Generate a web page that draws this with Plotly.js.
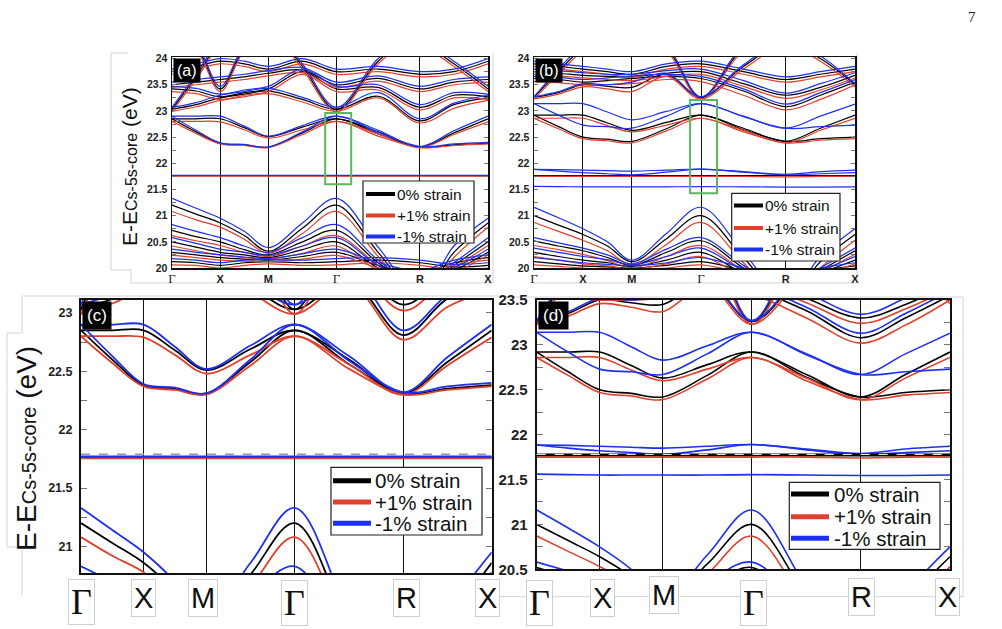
<!DOCTYPE html>
<html><head><meta charset="utf-8">
<script src="https://cdn.plot.ly/plotly-3.0.1.min.js"></script>
<style>html,body{margin:0;padding:0;background:#fff}#chart{width:1002px;height:629px}</style>
</head><body><div id="chart"></div>
<script>
// ---------- k-path (high-symmetry path G-X-M-G-R-X) ----------
const kPath   = [0, 0.25, 0.5, 0.75, 1.0, 1.354, 1.707, 2.140, 2.573, 2.926, 3.280];
const kTicks  = [0, 0.5, 1.0, 1.707, 2.573, 3.280];
const kLabels = ['Γ', 'X', 'M', 'Γ', 'R', 'X'];

const strainNames  = ['0% strain', '+1% strain', '-1% strain'];
const strainColors = ['#000000', '#e2402c', '#1d2ff0'];

// ---------- material of panels (a)/(c) ----------
const bandsA_0 = [
  [22.85, 22.85, 22.85, 22.68, 22.51, 22.69, 22.85, 22.60, 22.31, 22.58, 22.85],
  [22.85, 22.60, 22.38, 22.35, 22.31, 22.58, 22.85, 22.56, 22.31, 22.35, 22.38],
  [21.765, 21.765, 21.765, 21.765, 21.765, 21.765, 21.765, 21.765, 21.765, 21.765, 21.765],
  [23.03, 23.12, 23.25, 23.32, 23.38, 23.22, 23.03, 23.28, 22.81, 23.12, 23.25],
  [23.42, 23.38, 23.27, 23.35, 23.42, 23.75, 23.42, 23.45, 23.07, 23.30, 23.27],
  [23.03, 23.65, 24.30, 24.50, 24.60, 23.85, 23.03, 23.95, 24.50, 24.10, 24.30],
  [23.50, 23.55, 23.60, 23.65, 23.72, 23.78, 23.50, 23.62, 23.42, 23.55, 23.60],
  [23.75, 23.85, 23.95, 23.90, 23.80, 23.95, 23.75, 23.80, 23.70, 23.75, 23.95],
  [24.30, 24.20, 23.42, 24.20, 24.50, 24.50, 24.30, 24.40, 24.30, 23.90, 23.42],
  [21.20, 21.03, 20.86, 20.62, 20.32, 20.76, 21.20, 20.30, 19.45, 20.30, 20.86],
  [20.72, 20.60, 20.50, 20.35, 20.25, 20.50, 20.72, 20.10, 19.60, 20.05, 20.50],
  [20.50, 20.40, 20.30, 20.25, 20.20, 20.35, 20.50, 20.00, 19.70, 19.95, 20.30],
  [20.30, 20.25, 20.20, 20.17, 20.15, 20.22, 20.30, 20.05, 19.90, 20.10, 20.20],
  [20.12, 20.10, 20.05, 20.10, 20.12, 20.10, 20.12, 20.15, 20.10, 20.02, 20.05]
];
const bandsA_p1 = [
  [22.80, 22.80, 22.79, 22.64, 22.48, 22.64, 22.80, 22.56, 22.30, 22.55, 22.79],
  [22.80, 22.57, 22.37, 22.34, 22.30, 22.55, 22.80, 22.52, 22.30, 22.34, 22.37],
  [21.755, 21.755, 21.755, 21.755, 21.755, 21.755, 21.755, 21.755, 21.755, 21.755, 21.755],
  [22.99, 23.08, 23.20, 23.27, 23.33, 23.17, 22.99, 23.25, 22.77, 23.05, 23.20],
  [23.37, 23.33, 23.22, 23.30, 23.37, 23.70, 23.37, 23.40, 23.02, 23.25, 23.22],
  [22.99, 23.60, 24.25, 24.45, 24.55, 23.80, 22.99, 23.90, 24.45, 24.05, 24.25],
  [23.45, 23.50, 23.55, 23.60, 23.67, 23.73, 23.45, 23.57, 23.37, 23.50, 23.55],
  [23.70, 23.80, 23.90, 23.85, 23.75, 23.90, 23.70, 23.75, 23.65, 23.70, 23.90],
  [24.25, 24.15, 23.37, 24.15, 24.45, 24.45, 24.25, 24.35, 24.25, 23.85, 23.37],
  [21.08, 20.92, 20.78, 20.55, 20.28, 20.66, 21.08, 20.22, 19.40, 20.20, 20.78],
  [20.62, 20.52, 20.43, 20.30, 20.22, 20.42, 20.62, 20.05, 19.55, 20.00, 20.43],
  [20.42, 20.33, 20.25, 20.20, 20.17, 20.28, 20.42, 19.95, 19.65, 19.90, 20.25],
  [20.24, 20.20, 20.15, 20.13, 20.12, 20.17, 20.24, 20.00, 19.85, 20.05, 20.15],
  [20.06, 20.05, 20.00, 20.05, 20.08, 20.05, 20.06, 20.10, 20.05, 19.97, 20.00]
];
const bandsA_m1 = [
  [22.90, 22.90, 22.90, 22.71, 22.52, 22.72, 22.90, 22.63, 22.32, 22.62, 22.90],
  [22.90, 22.63, 22.39, 22.36, 22.31, 22.60, 22.90, 22.59, 22.32, 22.37, 22.40],
  [21.77, 21.77, 21.77, 21.77, 21.77, 21.77, 21.77, 21.77, 21.77, 21.77, 21.77],
  [23.07, 23.16, 23.30, 23.37, 23.43, 23.26, 23.07, 23.35, 22.85, 23.15, 23.30],
  [23.47, 23.43, 23.32, 23.40, 23.47, 23.80, 23.47, 23.50, 23.12, 23.35, 23.32],
  [23.07, 23.70, 24.35, 24.55, 24.65, 23.90, 23.07, 24.00, 24.55, 24.15, 24.35],
  [23.55, 23.60, 23.65, 23.70, 23.77, 23.83, 23.55, 23.67, 23.47, 23.60, 23.65],
  [23.80, 23.90, 24.00, 23.95, 23.85, 24.00, 23.80, 23.85, 23.75, 23.80, 24.00],
  [24.35, 24.25, 23.47, 24.25, 24.55, 24.55, 24.35, 24.45, 24.35, 23.95, 23.47],
  [21.33, 21.14, 20.95, 20.70, 20.39, 20.86, 21.33, 20.40, 19.50, 20.42, 20.95],
  [20.83, 20.70, 20.58, 20.42, 20.30, 20.58, 20.83, 20.15, 19.65, 20.10, 20.58],
  [20.58, 20.47, 20.36, 20.30, 20.24, 20.42, 20.58, 20.05, 19.75, 20.00, 20.36],
  [20.36, 20.30, 20.25, 20.21, 20.18, 20.27, 20.36, 20.10, 19.95, 20.15, 20.25],
  [20.18, 20.15, 20.10, 20.15, 20.16, 20.15, 20.18, 20.20, 20.15, 20.07, 20.10]
];

// ---------- material of panels (b)/(d) ----------
const bandsB_0 = [
  [22.92, 22.92, 22.92, 22.77, 22.63, 22.78, 22.92, 22.67, 22.42, 22.67, 22.92],
  [22.92, 22.70, 22.50, 22.46, 22.42, 22.66, 22.92, 22.64, 22.42, 22.47, 22.50],
  [21.765, 21.765, 21.765, 21.765, 21.765, 21.765, 21.765, 21.765, 21.765, 21.765, 21.765],
  [23.26, 23.35, 23.50, 23.47, 23.45, 23.70, 23.26, 23.85, 24.30, 24.00, 23.50],
  [23.62, 23.60, 23.55, 23.58, 23.62, 23.66, 23.62, 23.38, 23.08, 23.30, 23.55],
  [23.75, 23.72, 23.68, 23.66, 23.65, 23.72, 23.75, 23.52, 23.30, 23.45, 23.68],
  [23.90, 23.85, 23.80, 23.75, 23.70, 23.85, 23.90, 23.75, 23.60, 23.70, 23.80],
  [23.26, 23.75, 24.20, 24.40, 24.50, 24.20, 23.26, 24.20, 24.50, 24.10, 24.20],
  [21.00, 20.82, 20.64, 20.42, 20.12, 20.56, 21.00, 20.20, 19.40, 20.12, 20.64],
  [20.52, 20.42, 20.33, 20.20, 20.05, 20.30, 20.52, 20.00, 19.55, 19.95, 20.33],
  [20.30, 20.22, 20.15, 20.10, 20.03, 20.15, 20.30, 19.90, 19.65, 19.90, 20.15],
  [20.12, 20.08, 20.04, 20.02, 20.00, 20.05, 20.12, 19.95, 19.80, 19.95, 20.04]
];
const bandsB_p1 = [
  [22.86, 22.86, 22.86, 22.72, 22.60, 22.73, 22.86, 22.63, 22.39, 22.63, 22.86],
  [22.86, 22.66, 22.47, 22.43, 22.39, 22.62, 22.86, 22.60, 22.39, 22.44, 22.47],
  [21.75, 21.75, 21.75, 21.75, 21.75, 21.75, 21.75, 21.75, 21.74, 21.75, 21.75],
  [23.23, 23.32, 23.46, 23.42, 23.37, 23.66, 23.23, 23.80, 24.25, 23.95, 23.46],
  [23.56, 23.54, 23.50, 23.50, 23.52, 23.60, 23.56, 23.30, 23.02, 23.22, 23.50],
  [23.70, 23.67, 23.63, 23.60, 23.58, 23.66, 23.70, 23.47, 23.24, 23.40, 23.63],
  [23.85, 23.80, 23.75, 23.70, 23.65, 23.80, 23.85, 23.70, 23.55, 23.65, 23.75],
  [23.23, 23.70, 24.15, 24.35, 24.45, 24.15, 23.23, 24.15, 24.45, 24.05, 24.15],
  [20.87, 20.70, 20.53, 20.33, 20.06, 20.45, 20.87, 20.10, 19.35, 20.00, 20.53],
  [20.43, 20.35, 20.26, 20.14, 20.00, 20.22, 20.43, 19.95, 19.50, 19.90, 20.26],
  [20.22, 20.15, 20.08, 20.04, 19.98, 20.08, 20.22, 19.85, 19.60, 19.85, 20.08],
  [20.06, 20.03, 20.00, 19.98, 19.96, 20.00, 20.06, 19.90, 19.75, 19.90, 20.00]
];
const bandsB_m1 = [
  [23.14, 23.14, 23.14, 22.98, 22.83, 22.99, 23.14, 22.90, 22.67, 22.90, 23.13],
  [23.14, 22.92, 22.73, 22.70, 22.67, 22.90, 23.14, 22.89, 22.67, 22.70, 22.73],
  [21.885, 21.88, 21.87, 21.86, 21.85, 21.87, 21.89, 21.84, 21.79, 21.84, 21.87],
  [21.885, 21.85, 21.82, 21.80, 21.78, 21.83, 21.89, 21.83, 21.78, 21.80, 21.82],
  [21.56, 21.555, 21.55, 21.55, 21.55, 21.55, 21.555, 21.55, 21.545, 21.545, 21.55],
  [23.27, 23.37, 23.52, 23.50, 23.55, 23.72, 23.27, 23.88, 24.35, 24.05, 23.52],
  [23.66, 23.64, 23.60, 23.63, 23.67, 23.70, 23.66, 23.42, 23.13, 23.35, 23.60],
  [23.80, 23.77, 23.73, 23.70, 23.70, 23.77, 23.80, 23.58, 23.34, 23.52, 23.73],
  [23.95, 23.90, 23.85, 23.80, 23.75, 23.90, 23.95, 23.80, 23.65, 23.75, 23.85],
  [23.27, 23.80, 24.25, 24.45, 24.55, 24.25, 23.27, 24.25, 24.55, 24.15, 24.25],
  [21.16, 20.96, 20.75, 20.50, 20.15, 20.66, 21.16, 20.30, 19.45, 20.22, 20.75],
  [20.58, 20.48, 20.38, 20.25, 20.08, 20.36, 20.58, 20.05, 19.60, 20.00, 20.38],
  [20.38, 20.30, 20.22, 20.16, 20.06, 20.22, 20.38, 19.95, 19.70, 19.95, 20.22],
  [20.20, 20.15, 20.10, 20.07, 20.04, 20.10, 20.20, 20.00, 19.85, 20.00, 20.10]
];

// reference levels and highlight boxes
const refLevelC = 21.79, refLevelD = 21.78;
const boxA = {k: [1.59, 1.86], e: [21.60, 22.96]};
const boxB = {k: [1.595, 1.87], e: [21.43, 23.21]};

// ---------- page geometry ----------
const W = 1002, H = 629;
const PX = x => x / W, PY = y => 1 - y / H;

const panels = [
  {tag:'(a)', xa:'x',  ya:'y',  xd:[172,488],   yd:[57,268],    yr:[20,24.03],    mats:[bandsA_0,bandsA_p1,bandsA_m1], lw:1.2, tickSize:10.5, small:true},
  {tag:'(b)', xa:'x2', ya:'y2', xd:[534,855],   yd:[57,268],    yr:[20,24.03],    mats:[bandsB_0,bandsB_p1,bandsB_m1], lw:1.2, tickSize:10.5, small:true},
  {tag:'(c)', xa:'x3', ya:'y3', xd:[81,491.7],  yd:[300,573.3], yr:[20.77,23.11], mats:[bandsA_0,bandsA_p1,bandsA_m1], lw:1.8, tickSize:12.5, small:false},
  {tag:'(d)', xa:'x4', ya:'y4', xd:[536.7,950], yd:[300,569.3], yr:[20.5,23.5],   mats:[bandsB_0,bandsB_p1,bandsB_m1], lw:1.6, tickSize:15, small:false}
];

const traces = [];
panels.forEach(p => {
  p.mats.forEach((bands, si) => {
    bands.forEach(b => traces.push({
      type:'scatter', mode:'lines', x:kPath, y:b, xaxis:p.xa, yaxis:p.ya,
      line:{color:strainColors[si], width:p.lw, shape:'spline', smoothing:1},
      hoverinfo:'skip', showlegend:false
    }));
  });
});

const SANS = 'Liberation Sans, Arial, sans-serif';
const SERIF = 'Liberation Serif, Times New Roman, serif';
const fmtSmall = s => s === 'Γ'
  ? '<span style="font-family:Liberation Serif;font-weight:normal;font-size:13px">Γ</span>'
  : '<b>' + s + '</b>';

const layout = {
  width:W, height:H, margin:{l:0,r:0,t:0,b:0},
  paper_bgcolor:'#fff', plot_bgcolor:'#fff', showlegend:false,
  shapes:[], annotations:[]
};

panels.forEach((p, i) => {
  const n = i === 0 ? '' : String(i + 1);
  layout['xaxis' + n] = {
    domain:[PX(p.xd[0]), PX(p.xd[1])], anchor:p.ya, range:[0, 3.28],
    tickvals:kTicks, ticktext:kLabels.map(fmtSmall), showticklabels:p.small,
    tickfont:{family:SANS, size:11, color:'#222'},
    showgrid:true, gridcolor:'#111', gridwidth:1, zeroline:false,
    showline:true, mirror:true, linecolor:'#111', linewidth:p.small ? 1.5 : 2,
    ticks:'', fixedrange:true
  };
  layout['yaxis' + n] = {
    domain:[PY(p.yd[1]), PY(p.yd[0])], anchor:p.xa, range:p.yr,
    tick0:20, dtick:0.5, ticks:'inside', ticklen:p.small ? 4 : 6, tickcolor:'#777',
    minor:{dtick:0.25, ticks:'inside', ticklen:p.small ? 4 : 6, tickcolor:'#777'},
    tickfont:{family:SANS, size:p.tickSize, color:'#222', weight:'bold'},
    ticklabelstandoff: p.small ? 1 : 4,
    showgrid:false, zeroline:false, showline:true, mirror:'ticks',
    linecolor:'#111', linewidth:p.small ? 1.5 : 2, fixedrange:true
  };
  layout.annotations.push({
    xref:'paper', yref:'paper', x:PX(p.xd[0] + 1), y:PY(p.yd[0] + 1), xanchor:'left', yanchor:'top',
    text:p.tag, showarrow:false, bgcolor:'#000', borderpad:p.small ? 3 : 4,
    font:{family:SANS, size:p.small ? 16 : 17, color:'#fff'}
  });
});

// big k-labels of panels (c) and (d)
const bigLabelRows = [
  {xa:'x3', ys:[602,597.5,597.5,602.5,597.5,597.5], dx:[0,0,-3,0,3,-4]},
  {xa:'x4', ys:[603,597.5,594.7,603,597,597],       dx:[3,3,1,2,1,-3]}
];
bigLabelRows.forEach(r => {
  kTicks.forEach((kv, j) => {
    const isG = kLabels[j] === 'Γ';
    layout.annotations.push({
      xref:r.xa, yref:'paper', x:kv, y:PY(r.ys[j]), xshift:r.dx[j], xanchor:'center', yanchor:'middle',
      text:kLabels[j], showarrow:false, bgcolor:'#fff', bordercolor:'#cfcfcf', borderwidth:1, borderpad:2,
      font:{family:isG ? SERIF : SANS, size:isG ? 36 : 29, color:'#111'}
    });
  });
});

// y-axis titles
layout.annotations.push({
  xref:'paper', yref:'paper', x:PX(129), y:PY(167), xanchor:'center', yanchor:'middle', textangle:-90, showarrow:false,
  text:'E-E<span style="font-size:16px">Cs-5s-core</span> (eV)',
  font:{family:SANS, size:21, color:'#111'}
});
layout.annotations.push({
  xref:'paper', yref:'paper', x:PX(27), y:PY(449), xanchor:'center', yanchor:'middle', textangle:-90, showarrow:false,
  text:'E-E<span style="font-size:20px">Cs-5s-core</span> (eV)',
  font:{family:SANS, size:28, color:'#111'}
});
// page number
layout.annotations.push({
  xref:'paper', yref:'paper', x:PX(972), y:PY(17), xanchor:'center', yanchor:'middle', showarrow:false, text:'7',
  font:{family:SERIF, size:15, color:'#222'}
});

// green highlight boxes
layout.shapes.push({type:'rect', xref:'x', yref:'y', x0:boxA.k[0], x1:boxA.k[1], y0:boxA.e[0], y1:boxA.e[1], line:{color:'#5cb85c', width:2}});
layout.shapes.push({type:'rect', xref:'x2', yref:'y2', x0:boxB.k[0], x1:boxB.k[1], y0:boxB.e[0], y1:boxB.e[1], line:{color:'#5cb85c', width:2}});
// reference dashed levels
layout.shapes.push({type:'line', xref:'x3 domain', yref:'y3', x0:0, x1:1, y0:refLevelC, y1:refLevelC, line:{color:'#999', width:1.5, dash:'dash'}});
layout.shapes.push({type:'line', xref:'x4 domain', yref:'y4', x0:0, x1:1, y0:refLevelD, y1:refLevelD, line:{color:'#000', width:2}});
layout.shapes.push({type:'line', xref:'x4 domain', yref:'y4', x0:0, x1:1, y0:refLevelD, y1:refLevelD, line:{color:'#fff', width:1, dash:'dash'}});

// legends (box + line samples + labels)
function addLegend(box, rows, lx, tx, fs, lw) {
  layout.shapes.push({type:'rect', xref:'paper', yref:'paper', x0:PX(box[0]), x1:PX(box[1]), y0:PY(box[3]), y1:PY(box[2]),
    fillcolor:'#fff', line:{color:'#222', width:1.2}, layer:'above'});
  rows.forEach((ry, si) => {
    layout.shapes.push({type:'line', xref:'paper', yref:'paper', x0:PX(lx[0]), x1:PX(lx[1]), y0:PY(ry), y1:PY(ry),
      line:{color:strainColors[si], width:lw}, layer:'above'});
    layout.annotations.push({xref:'paper', yref:'paper', x:PX(tx), y:PY(ry), xanchor:'left', yanchor:'middle',
      text:strainNames[si], showarrow:false, font:{family:SANS, size:fs, color:'#111'}});
  });
}
addLegend([363,474,181,243], [194,215.5,236.5], [366,395], 395, 15.5, 4);
addLegend([731.7,840,193.3,261], [205.5,228,249.5], [734,763], 763, 15.5, 4);
addLegend([331,482,467.3,535], [480.7,502,523.3], [333,371], 373, 20.5, 5);
addLegend([789.3,940,482.3,549.3], [494,516.7,538.3], [791,829], 832, 20.5, 5);

// light grey outline fragments around the pasted panels
const greyPaths = [
  [[128,53],[111,53],[111,270],[131,270],[131,283],[493,283],[493,53]],
  [[533,283],[857,283],[857,53]],
  [[500,296],[22,296],[22,333],[7,333],[7,547],[22,547],[22,595]],
  [[500,297],[963,297],[963,597]],
  [[500,596.7],[963,596.7]]
];
greyPaths.forEach(pts => {
  const d = pts.map((q, j) => (j ? 'L' : 'M') + PX(q[0]) + ',' + PY(q[1])).join(' ');
  layout.shapes.push({type:'path', xref:'paper', yref:'paper', path:d, line:{color:'#d4d4d4', width:1}, layer:'below'});
});

Plotly.newPlot('chart', traces, layout, {staticPlot:true, displayModeBar:false});
</script></body></html>
